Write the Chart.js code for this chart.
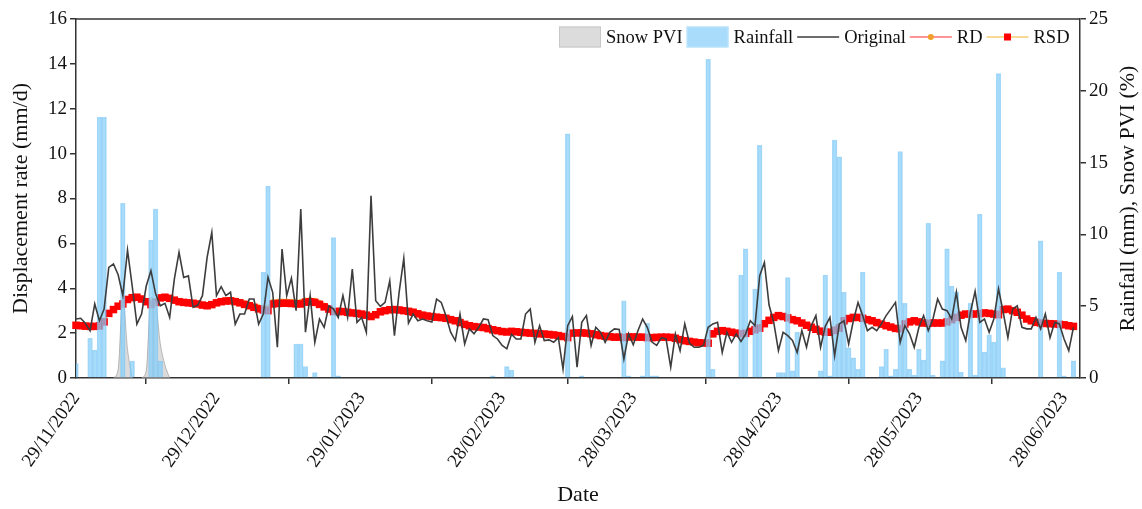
<!DOCTYPE html>
<html lang="en">
<head>
<meta charset="UTF-8">
<title>Displacement rate, rainfall and snow PVI</title>
<script src="https://cdn.jsdelivr.net/npm/chart.js"></script>
<style>
  html, body { margin: 0; padding: 0; background: #fff; }
</style>
</head>
<body>
<canvas id="rateChart" width="1142" height="509"></canvas>

<script>
// Daily series, day 0 = 29/11/2022 ... day 213 = 29/06/2023
const tickDays = [0, 30, 61, 91, 119, 150, 180, 211];
const tickLabels = ['29/11/2022', '29/12/2022', '29/01/2023', '28/02/2023',
                    '28/03/2023', '28/04/2023', '28/05/2023', '28/06/2023'];

// displacement rate (mm/d)
const original = [
  2.63, 2.66, 2.44, 2.10, 3.30, 2.55, 3.07, 4.93, 5.08, 4.60,
  3.67, 5.70, 4.10, 2.40, 2.85, 4.10, 4.78, 3.75, 3.22, 3.33,
  2.70, 4.41, 5.60, 4.48, 4.55, 3.15, 3.25, 3.67, 5.38, 6.49,
  3.67, 4.07, 3.67, 3.82, 2.40, 2.85, 2.85, 3.52, 3.52, 2.40,
  2.85, 4.49, 3.82, 1.37, 5.75, 3.67, 4.45, 3.00, 7.53, 2.04,
  3.67, 1.59, 2.63, 2.26, 3.22, 3.07, 2.70, 3.67, 2.70, 4.86,
  2.48, 2.70, 2.04, 8.12, 3.44, 3.19, 3.37, 4.33, 1.89, 3.82,
  5.33, 2.45, 2.85, 2.55, 2.63, 2.55, 2.50, 3.52, 3.37, 2.78,
  2.04, 1.67, 2.85, 1.52, 2.19, 1.97, 2.26, 2.63, 2.60, 1.89,
  1.74, 1.45, 1.30, 1.95, 1.74, 1.74, 2.85, 3.07, 1.59, 2.33,
  1.67, 1.70, 1.59, 1.80, 0.40, 2.33, 2.74, 0.48, 2.48, 2.78,
  1.45, 2.26, 2.04, 1.59, 2.04, 2.19, 2.16, 0.85, 1.97, 1.48,
  2.11, 2.63, 2.26, 1.60, 1.45, 1.80, 1.74, 0.48, 1.97, 1.22,
  2.41, 1.56, 1.37, 1.37, 1.45, 2.26, 2.41, 2.48, 1.14, 2.04,
  1.59, 1.97, 1.63, 1.97, 2.55, 2.33, 4.56, 5.15, 3.25, 2.48,
  1.22, 2.04, 1.89, 1.67, 1.14, 2.11, 1.37, 2.33, 2.78, 1.37,
  2.30, 2.70, 0.99, 2.41, 2.55, 1.52, 2.55, 3.37, 2.78, 2.11,
  2.26, 2.11, 2.41, 2.78, 3.07, 3.37, 1.59, 2.33, 1.97, 1.37,
  2.26, 2.78, 2.11, 2.63, 3.52, 3.07, 3.00, 2.63, 3.82, 2.26,
  1.67, 2.93, 3.86, 2.48, 2.63, 2.04, 2.63, 3.97, 2.93, 1.80,
  3.07, 3.22, 2.26, 2.19, 2.19, 2.70, 2.19, 2.85, 1.80, 2.48,
  2.41, 1.74, 1.22, 2.26
];

const rd = [
  2.36, 2.34, 2.32, 2.31, 2.33, 2.40, 2.58, 2.90, 3.07, 3.22,
  3.36, 3.52, 3.60, 3.62, 3.55, 3.45, 3.38, 3.45, 3.58, 3.62,
  3.57, 3.49, 3.42, 3.39, 3.37, 3.35, 3.32, 3.28, 3.26, 3.30,
  3.38, 3.44, 3.48, 3.50, 3.47, 3.42, 3.35, 3.29, 3.22, 3.17,
  3.14, 3.16, 3.40, 3.42, 3.43, 3.43, 3.42, 3.41, 3.41, 3.47,
  3.49, 3.46, 3.37, 3.25, 3.13, 3.03, 3.01, 2.99, 2.96, 2.93,
  2.90, 2.87, 2.82, 2.78, 2.86, 2.99, 3.05, 3.09, 3.10, 3.08,
  3.05, 3.02, 2.98, 2.91, 2.85, 2.80, 2.78, 2.75, 2.73, 2.70,
  2.64, 2.58, 2.50, 2.42, 2.36, 2.31, 2.29, 2.27, 2.22, 2.17,
  2.13, 2.09, 2.07, 2.09, 2.07, 2.05, 2.03, 2.01, 2.00, 1.98,
  1.97, 1.95, 1.93, 1.91, 1.89, 1.88, 2.00, 2.01, 2.01, 2.00,
  1.97, 1.93, 1.89, 1.86, 1.84, 1.83, 1.83, 1.83, 1.83, 1.83,
  1.82, 1.82, 1.81, 1.80, 1.80, 1.81, 1.81, 1.79, 1.75, 1.69,
  1.64, 1.61, 1.58, 1.55, 1.54, 1.62, 1.92, 2.05, 2.09, 2.07,
  2.03, 2.00, 1.99, 2.02, 2.10, 2.20, 2.30, 2.46, 2.60, 2.72,
  2.79, 2.76, 2.70, 2.62, 2.55, 2.45, 2.34, 2.25, 2.16, 2.08,
  2.05, 2.07, 2.20, 2.35, 2.55, 2.66, 2.71, 2.71, 2.67, 2.60,
  2.54, 2.46, 2.39, 2.32, 2.26, 2.22, 2.27, 2.41, 2.50, 2.54,
  2.50, 2.46, 2.45, 2.45, 2.45, 2.46, 2.55, 2.65, 2.75, 2.81,
  2.85, 2.86, 2.87, 2.88, 2.90, 2.89, 2.87, 2.90, 3.04, 3.06,
  3.00, 2.92, 2.79, 2.62, 2.54, 2.47, 2.45, 2.43, 2.41, 2.40,
  2.39, 2.36, 2.32, 2.29
];

const rsd = [
  2.35, 2.33, 2.31, 2.30, 2.30, 2.32, 2.50, 2.88, 3.05, 3.20,
  3.30, 3.50, 3.58, 3.60, 3.52, 3.40, 3.27, 3.37, 3.57, 3.60,
  3.55, 3.47, 3.40, 3.37, 3.35, 3.33, 3.30, 3.25, 3.22, 3.27,
  3.35, 3.40, 3.43, 3.44, 3.40, 3.35, 3.28, 3.22, 3.15, 3.08,
  3.03, 3.00, 3.30, 3.32, 3.33, 3.33, 3.32, 3.31, 3.30, 3.38,
  3.40, 3.37, 3.28, 3.17, 3.07, 2.96, 2.97, 2.96, 2.93, 2.90,
  2.88, 2.85, 2.80, 2.74, 2.82, 2.95, 3.00, 3.04, 3.05, 3.03,
  3.00, 2.97, 2.93, 2.86, 2.80, 2.76, 2.74, 2.71, 2.69, 2.66,
  2.60, 2.55, 2.47, 2.39, 2.33, 2.29, 2.27, 2.25, 2.20, 2.15,
  2.11, 2.07, 2.05, 2.08, 2.06, 2.04, 2.02, 2.00, 1.99, 1.97,
  1.96, 1.94, 1.92, 1.89, 1.85, 1.80, 2.00, 2.01, 2.01, 2.00,
  1.97, 1.93, 1.89, 1.86, 1.84, 1.82, 1.82, 1.80, 1.83, 1.83,
  1.82, 1.82, 1.80, 1.80, 1.81, 1.82, 1.82, 1.81, 1.77, 1.71,
  1.66, 1.63, 1.60, 1.57, 1.56, 1.55, 1.97, 2.08, 2.11, 2.08,
  2.04, 2.00, 1.97, 1.99, 2.08, 2.15, 2.22, 2.42, 2.57, 2.70,
  2.78, 2.74, 2.68, 2.60, 2.55, 2.45, 2.35, 2.26, 2.17, 2.09,
  2.04, 2.04, 2.12, 2.22, 2.55, 2.65, 2.70, 2.70, 2.66, 2.60,
  2.55, 2.47, 2.40, 2.33, 2.27, 2.21, 2.19, 2.41, 2.50, 2.55,
  2.50, 2.45, 2.44, 2.45, 2.45, 2.45, 2.50, 2.60, 2.70, 2.80,
  2.85, 2.85, 2.85, 2.87, 2.90, 2.88, 2.85, 2.82, 3.05, 3.07,
  3.00, 2.93, 2.80, 2.63, 2.55, 2.48, 2.45, 2.43, 2.42, 2.41,
  2.39, 2.37, 2.33, 2.30
];

// daily rainfall (mm)
const rainfall = [
  1.00, 0, 0, 2.76, 1.95, 18.15, 18.15, 0, 0, 0,
  12.17, 0, 1.18, 0, 0, 0, 9.60, 11.77, 1.18, 0,
  0, 0, 0, 0, 0, 0, 0, 0, 0, 0,
  0, 0, 0, 0, 0, 0, 0, 0, 0, 0,
  7.36, 13.37, 0, 0, 0, 0, 0, 2.37, 2.37, 0.79,
  0, 0.37, 0, 0, 0, 9.77, 0.15, 0, 0, 0,
  0, 0, 0, 0, 0, 0, 0, 0, 0, 0,
  0, 0, 0, 0, 0, 0, 0, 0, 0, 0,
  0, 0, 0, 0, 0, 0, 0, 0, 0, 0.15,
  0, 0, 0.80, 0.56, 0, 0, 0, 0, 0, 0,
  0, 0, 0, 0, 0, 17.00, 0, 0, 0.15, 0,
  0, 0, 0, 0, 0, 0, 0, 5.38, 0.15, 0,
  0, 0.15, 3.80, 0.15, 0.15, 0, 0, 0, 0, 0,
  0, 0, 0, 0, 0, 22.20, 0.60, 0, 0, 0,
  0, 0, 7.17, 9.00, 0, 6.20, 16.20, 0, 0, 0,
  0.37, 0.37, 7.00, 0.50, 3.18, 0, 0, 0, 0, 0.50,
  7.17, 0.15, 16.57, 15.40, 5.97, 2.10, 1.40, 0.60, 7.36, 0,
  0, 0, 0.80, 2.00, 0.15, 0.60, 15.76, 5.20, 0.60, 0.20,
  2.00, 1.25, 10.77, 0.20, 0, 1.20, 9.00, 6.40, 6.00, 0.40,
  0, 5.20, 0.20, 11.40, 1.80, 3.00, 2.50, 21.20, 0.70, 0,
  0, 0, 0, 0, 0, 0, 9.56, 0, 0, 0,
  7.36, 0.15, 0, 1.20
];

// snow PVI (%), only the two December events
const snowDays = [8, 9, 10, 11, 12, 13, 14, 15, 16, 17, 18, 19, 20];
const snowPVI  = [0, 0.6, 5.6, 2.0, 0, null, 0, 0.5, 5.6, 5.2, 2.4, 0.9, 0];

const serif = "'Liberation Serif', 'Times New Roman', serif";
const axisColor = '#333333';

const toPoints = (values, days) =>
  values.map((v, i) => ({ x: days ? days[i] : i, y: v }));

// frame top edge, right axis title and the in-plot legend row
const frameAndLegend = {
  id: 'frameAndLegend',
  afterDraw(chart) {
    const { ctx, chartArea: a } = chart;
    ctx.save();

    ctx.strokeStyle = axisColor;
    ctx.lineWidth = 1.5;
    ctx.beginPath();
    ctx.moveTo(a.left, a.top);
    ctx.lineTo(a.right, a.top);
    ctx.stroke();

    ctx.fillStyle = '#111';
    ctx.font = `22px ${serif}`;
    ctx.textAlign = 'center';
    ctx.textBaseline = 'middle';
    ctx.translate(1128, (a.top + a.bottom) / 2);
    ctx.rotate(-Math.PI / 2);
    ctx.fillText('Rainfall (mm), Snow PVI (%)', 0, 0);
    ctx.setTransform(1, 0, 0, 1, 0, 0);

    const items = [
      { text: 'Snow PVI', box: ['#dcdcdc', '#c8c8c8'] },
      { text: 'Rainfall', box: ['#a9dbfa', '#c2e6fc'] },
      { text: 'Original', line: '#3d3d3d' },
      { text: 'RD', line: '#ff2a2a', dot: '#f0a028' },
      { text: 'RSD', line: '#f2b530', square: '#ff0000' }
    ];
    const yMid = 37;
    let x = 559;
    ctx.font = `18.5px ${serif}`;
    ctx.textAlign = 'left';
    ctx.textBaseline = 'middle';
    items.forEach(it => {
      if (it.box) {
        ctx.fillStyle = it.box[0];
        ctx.strokeStyle = it.box[1];
        ctx.lineWidth = 1;
        ctx.fillRect(x, yMid - 10.5, 42, 21);
        ctx.strokeRect(x + 0.5, yMid - 10, 41, 20);
      } else {
        ctx.strokeStyle = it.line;
        ctx.lineWidth = it.text === 'Original' ? 1.6 : 1.2;
        ctx.beginPath();
        ctx.moveTo(x, yMid);
        ctx.lineTo(x + 42, yMid);
        ctx.stroke();
        if (it.dot) {
          ctx.fillStyle = it.dot;
          ctx.beginPath();
          ctx.arc(x + 21, yMid, 3, 0, Math.PI * 2);
          ctx.fill();
        }
        if (it.square) {
          ctx.fillStyle = it.square;
          ctx.fillRect(x + 17.5, yMid - 3.5, 7, 7);
        }
      }
      ctx.fillStyle = '#111';
      ctx.fillText(it.text, x + 47, yMid + 1);
      x += 47 + ctx.measureText(it.text).width + 4;
    });

    ctx.restore();
  }
};

new Chart(document.getElementById('rateChart'), {
  type: 'bar',
  data: {
    datasets: [
      {
        type: 'line',
        label: 'Original',
        data: toPoints(original),
        yAxisID: 'y',
        borderColor: '#3d3d3d',
        borderWidth: 1.6,
        pointRadius: 0,
        tension: 0,
        order: 0
      },
      {
        type: 'bar',
        label: 'Rainfall',
        data: toPoints(rainfall.map(v => (v > 0 ? v : null))),
        yAxisID: 'y1',
        backgroundColor: 'rgba(135, 206, 250, 0.72)',
        borderColor: 'rgba(110, 190, 240, 0.55)',
        borderWidth: 0.8,
        barPercentage: 1,
        categoryPercentage: 1,
        order: 1
      },
      {
        type: 'line',
        label: 'Snow PVI',
        data: toPoints(snowPVI, snowDays),
        yAxisID: 'y1',
        fill: 'origin',
        backgroundColor: 'rgba(190, 190, 190, 0.55)',
        borderColor: 'rgba(160, 160, 160, 0.7)',
        borderWidth: 1,
        pointRadius: 0,
        cubicInterpolationMode: 'monotone',
        spanGaps: false,
        order: 2
      },
      {
        type: 'line',
        label: 'RSD',
        data: toPoints(rsd),
        yAxisID: 'y',
        borderColor: '#f2b530',
        borderWidth: 1,
        pointStyle: 'rect',
        pointRadius: 5.3,
        pointBackgroundColor: '#ff0000',
        pointBorderWidth: 0,
        clip: 6,
        order: 3
      },
      {
        type: 'line',
        label: 'RD',
        data: toPoints(rd),
        yAxisID: 'y',
        borderColor: '#ff2a2a',
        borderWidth: 1,
        pointStyle: 'circle',
        pointRadius: 2.6,
        pointBackgroundColor: '#f0a028',
        pointBorderWidth: 0,
        clip: 6,
        order: 4
      }
    ]
  },
  options: {
    responsive: false,
    animation: false,
    devicePixelRatio: 1,
    layout: { padding: { top: 19, left: 0, right: 0, bottom: 0 } },
    plugins: {
      legend: { display: false },
      tooltip: { enabled: false }
    },
    scales: {
      x: {
        type: 'linear',
        min: 0,
        max: 214.4,
        offset: false,
        afterBuildTicks: scale => {
          scale.ticks = tickDays.map(v => ({ value: v }));
        },
        afterFit: scale => { scale.height = 131; },
        ticks: {
          autoSkip: false,
          minRotation: 55,
          maxRotation: 55,
          padding: 4,
          color: '#111',
          font: { family: serif, size: 19 },
          callback: value => tickLabels[tickDays.indexOf(value)]
        },
        grid: { drawOnChartArea: false, drawTicks: true, tickLength: 6, color: axisColor, lineWidth: 1.5 },
        border: { display: true, color: axisColor, width: 1.5 },
        title: {
          display: true,
          text: 'Date',
          color: '#111',
          font: { family: serif, size: 22 },
          padding: { top: 0, bottom: 1 }
        }
      },
      y: {
        position: 'left',
        min: 0,
        max: 16,
        afterFit: scale => { scale.width = 76; },
        ticks: { stepSize: 2, padding: 3, color: '#111', font: { family: serif, size: 19 } },
        grid: { drawOnChartArea: false, drawTicks: true, tickLength: 6, color: axisColor, lineWidth: 1.5 },
        border: { display: true, color: axisColor, width: 1.5 },
        title: {
          display: true,
          text: 'Displacement rate (mm/d)',
          color: '#111',
          font: { family: serif, size: 22 },
          padding: { top: 8, bottom: 0 }
        }
      },
      y1: {
        position: 'right',
        min: 0,
        max: 25,
        afterFit: scale => { scale.width = 62; },
        ticks: { stepSize: 5, padding: 3, color: '#111', font: { family: serif, size: 19 } },
        grid: { drawOnChartArea: false, drawTicks: true, tickLength: 6, color: axisColor, lineWidth: 1.5 },
        border: { display: true, color: axisColor, width: 1.5 }
      }
    }
  },
  plugins: [frameAndLegend]
});
</script>
</body>
</html>
